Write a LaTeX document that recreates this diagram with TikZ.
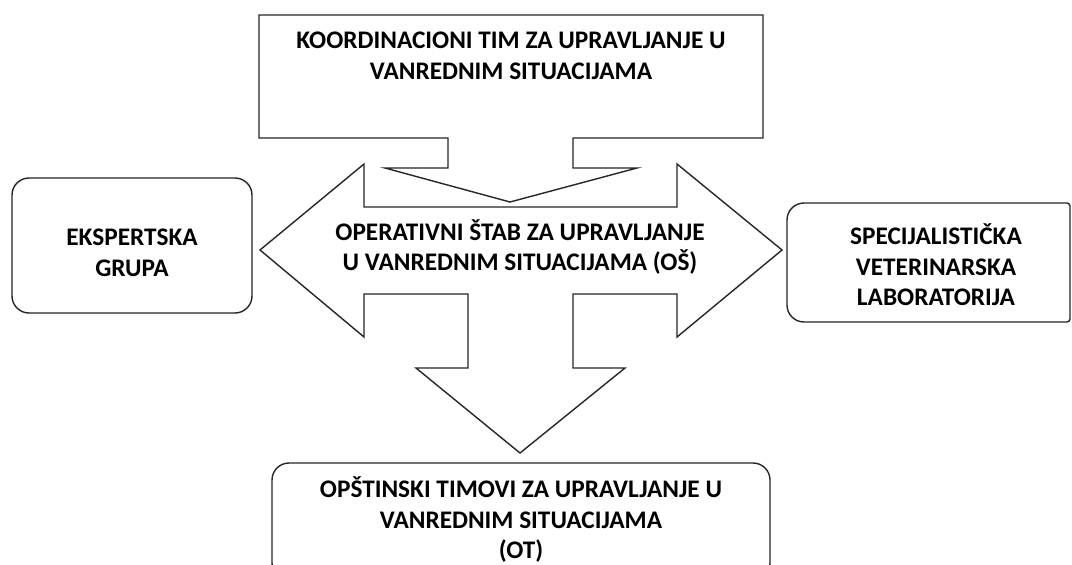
\documentclass[tikz,border=0pt]{standalone}
\usepackage{fontspec}
\setmainfont{Carlito}
\begin{document}
\begin{tikzpicture}[x=1pt,y=-1pt,
  outl/.style={draw=black!85,line width=1.4pt,fill=white,line join=miter},
  rbox/.style={outl,rounded corners=17pt},
  lbl/.style={align=center,inner sep=0pt,font=\bfseries\fontsize{25.3}{30.5}\selectfont}]
\clip (0,0) rectangle (1072,565);
\fill[white] (0,0) rectangle (1072,565);
% side boxes
\draw[rbox] (12,178) rectangle (252,313);
\draw[outl] (1070,203) [rounded corners=3pt] -- (1070,322) [rounded corners=17pt] -- (787,322) -- (787,203) [rounded corners=3pt] -- cycle;
\draw[rbox] (272,463) rectangle (770,580);
% double arrow with down arrow
\draw[outl] (260,250) -- (364,164) -- (364,207) -- (677,207) -- (677,164) -- (782,250)
  -- (677,337) -- (677,294) -- (573,294) -- (573,368) -- (625,368) -- (520,453)
  -- (416,368) -- (468,368) -- (468,294) -- (364,294) -- (364,337) -- cycle;
% top callout
\draw[outl] (259,15) -- (763,15) -- (763,138) -- (573,138) -- (573,168) -- (637,168)
  -- (510,202) -- (385,168) -- (448,168) -- (448,138) -- (259,138) -- cycle;
% texts
\node[lbl] (koord) at (511,56) {KOORDINACIONI TIM ZA UPRAVLJANJE U\\VANREDNIM SITUACIJAMA};
\node[lbl] (os) at (520,247) {OPERATIVNI ŠTAB ZA UPRAVLJANJE\\U VANREDNIM SITUACIJAMA (OŠ)};
\node[lbl] (eksp) at (132,253) {EKSPERTSKA\\GRUPA};
\node[lbl] (lab) at (936,265) {SPECIJALISTIČKA\\VETERINARSKA\\LABORATORIJA};
\node[lbl] (ot) at (521,520) {OPŠTINSKI TIMOVI ZA UPRAVLJANJE U\\VANREDNIM SITUACIJAMA\\(OT)};
\end{tikzpicture}
\end{document}
